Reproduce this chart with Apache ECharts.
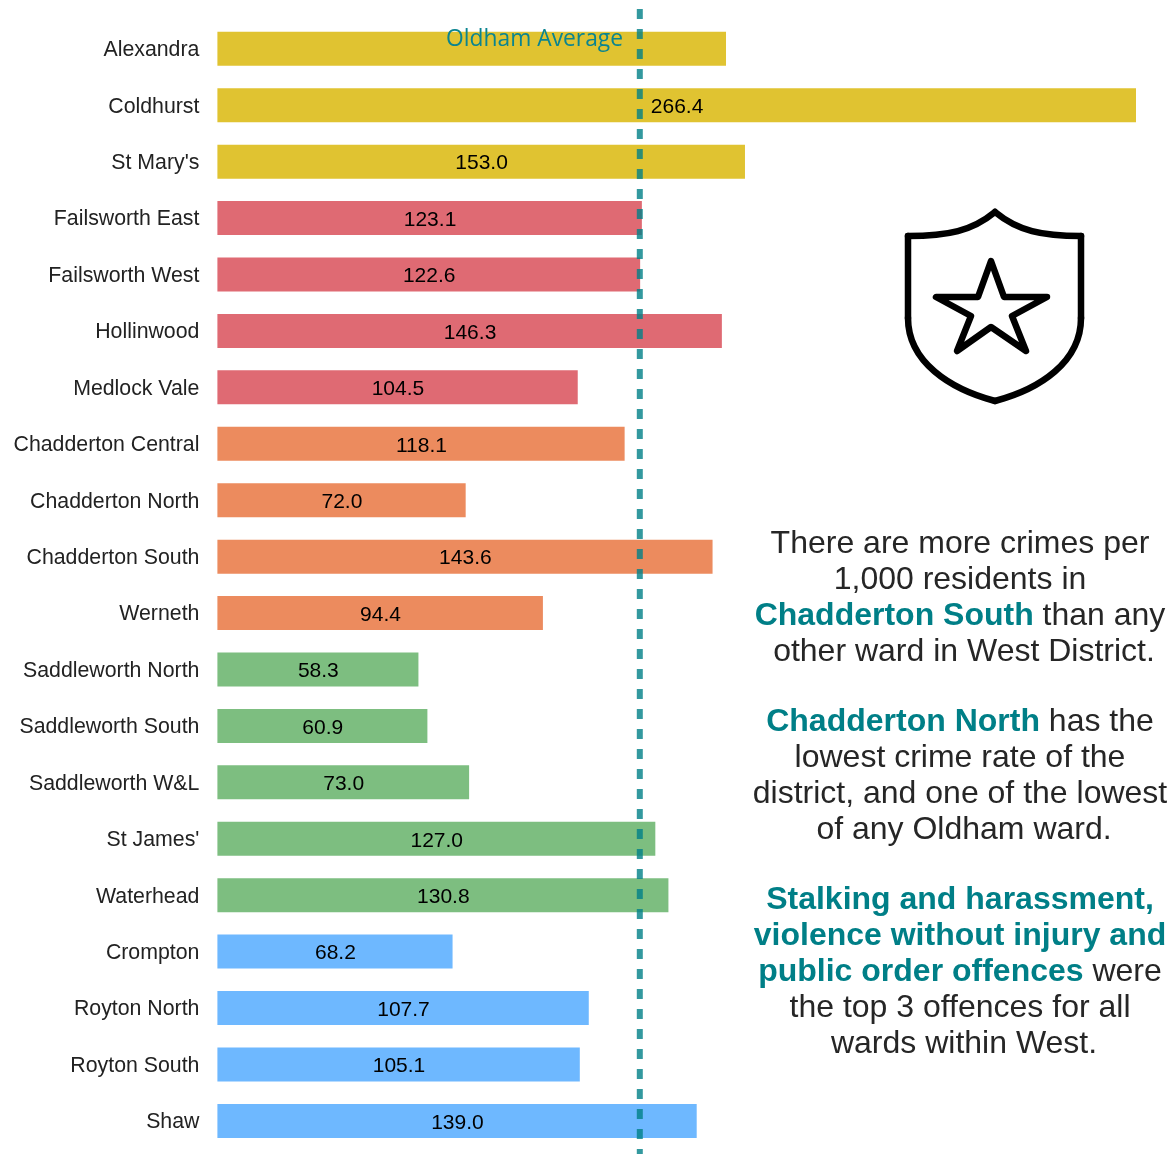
<!DOCTYPE html>
<html>
<head>
<meta charset="utf-8">
<style>html,body{margin:0;padding:0;background:#fff}#c{width:1170px;height:1154px}</style>
<script src="https://cdn.jsdelivr.net/npm/echarts@6/dist/echarts.min.js"></script>
</head>
<body>
<div id="c"></div>
<script>
const wards = ["Alexandra","Coldhurst","St Mary's","Failsworth East","Failsworth West","Hollinwood","Medlock Vale","Chadderton Central","Chadderton North","Chadderton South","Werneth","Saddleworth North","Saddleworth South","Saddleworth W&L","St James'","Waterhead","Crompton","Royton North","Royton South","Shaw"];
const rates = [147.5,266.4,153.0,123.1,122.6,146.3,104.5,118.1,72.0,143.6,94.4,58.3,60.9,73.0,127.0,130.8,68.2,107.7,105.1,139.0];
const groups = [0,0,0,1,1,1,1,2,2,2,2,3,3,3,3,3,4,4,4,4];
const groupColors = ["#E0C331","#DF6A73","#EC8B5E","#7DBE80","#6EB8FF"];
const hiddenLabels = ["Alexandra"];
const oldhamAverage = 122.5;
const averageLabel = "Oldham Average";
const xMax = 266.4;
const commentary = [
  [[["n","There are more crimes per"]],960,544],
  [[["n","1,000 residents in"]],960,580],
  [[["b","Chadderton South"],["n"," than any"]],960,616],
  [[["n","other ward in West District."]],964,652],
  [[["b","Chadderton North"],["n"," has the"]],960,722],
  [[["n","lowest crime rate of the"]],960,758],
  [[["n","district, and one of the lowest"]],960,794],
  [[["n","of any Oldham ward."]],964,830],
  [[["b","Stalking and harassment,"]],960,900],
  [[["b","violence without injury and"]],960,936],
  [[["b","public order offences"],["n"," were"]],960,972],
  [[["n","the top 3 offences for all"]],960,1008],
  [[["n","wards within West."]],964,1044]
];
const FONT = '"Liberation Sans", Arial, sans-serif';
const TEAL = "#007F87";
const shieldCurves = [
  [[908,236],[948,236],[972,231],[995,212]],
  [[995,212],[1018,231],[1042,236],[1081,236]],
  [[908,318],[908,362],[950,389],[995,401]],
  [[995,401],[1040,389],[1081,362],[1081,318]]
];
const shieldSides = [[[908,236],[908,318]],[[1081,236],[1081,318]]];
const star = [[991,261],[1004,297],[1047,297],[1012,316],[1026,351],[991,327],[957,351],[971,316],[936,297],[978,297]];

const iconStroke = {fill:null, stroke:"#000", lineWidth:6.5, lineJoin:"round", lineCap:"round"};
const iconEls = [
  ...shieldCurves.map(c => ({type:"bezierCurve", z:10, shape:{x1:c[0][0],y1:c[0][1],cpx1:c[1][0],cpy1:c[1][1],cpx2:c[2][0],cpy2:c[2][1],x2:c[3][0],y2:c[3][1]}, style:iconStroke})),
  ...shieldSides.map(s => ({type:"line", z:10, shape:{x1:s[0][0],y1:s[0][1],x2:s[1][0],y2:s[1][1]}, style:iconStroke})),
  {type:"polygon", z:10, shape:{points:star}, style:iconStroke}
];

const chart = echarts.init(document.getElementById("c"), null, {renderer:"canvas"});
const textEls = commentary.map(([parts,x,y]) => ({
  type:"text", x, y, z:10,
  style:{
    text: parts.map(([k,t]) => `{${k}|${t}}`).join(""),
    align:"center", verticalAlign:"middle",
    rich:{
      n:{font:`32px ${FONT}`, fill:"#262626"},
      b:{font:`bold 32px ${FONT}`, fill:TEAL}
    }
  }
}));
chart.setOption({
  animation:false,
  backgroundColor:"#fff",
  grid:[
    {left:217.4, width:918.6, top:20.6, height:1128.5},
    {left:217.4, width:918.6, top:9, bottom:0}
  ],
  xAxis:[
    {gridIndex:0, type:"value", min:0, max:xMax, show:false},
    {gridIndex:1, type:"value", min:0, max:xMax, show:false}
  ],
  yAxis:[
    {gridIndex:0, type:"category", inverse:true, data:wards,
     axisLine:{show:false}, axisTick:{show:false}, splitLine:{show:false},
     axisLabel:{fontFamily:FONT, fontSize:21.3, color:"#222", margin:18, interval:0, padding:[-9,0,0,0], verticalAlign:"top", lineHeight:21}},
    {gridIndex:1, type:"value", min:0, max:1, show:false}
  ],
  series:[
    {type:"bar", xAxisIndex:0, yAxisIndex:0, barWidth:34, z:2,
     data:rates.map((v,i)=>({value:v,
       itemStyle:{color:groupColors[groups[i]]},
       label:{show:!hiddenLabels.includes(wards[i])}})),
     label:{show:true, position:"inside", offset:[0.4,2], fontFamily:FONT, fontSize:21, color:"#000",
       formatter:p=>p.value.toFixed(1)}},
    {type:"line", xAxisIndex:1, yAxisIndex:1, z:5, silent:true, symbol:"none",
     data:[[oldhamAverage,1],[oldhamAverage,0]],
     lineStyle:{color:TEAL, width:6, opacity:0.8, type:[10,10], cap:"butt"}}
  ],
  graphic:[
    {type:"text", x:623, y:40, z:10, style:{text:averageLabel, align:"right", verticalAlign:"middle",
      font:'22.8px "Open Sans", sans-serif', fill:"#0A8490"}},
    ...iconEls,
    ...textEls
  ]
});
</script>
</body>
</html>
